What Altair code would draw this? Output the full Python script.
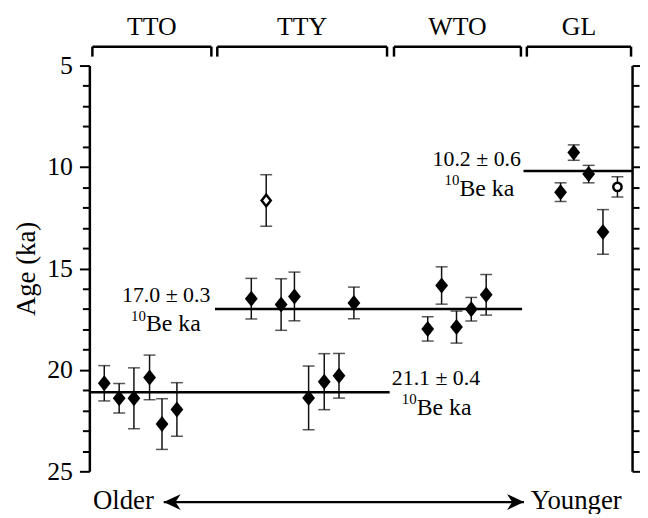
import altair as alt
import pandas as pd

# ---------------- data ----------------
# sample order along the x axis (older -> younger)
x_pos = [1.03, 2.06, 3.08, 4.16, 5.02, 6.05,
         11.19, 12.22, 13.25, 14.17, 15.15, 16.23, 17.25, 18.28,
         23.38, 24.34, 25.37, 26.39, 27.42,
         32.56, 33.47, 34.50, 35.49, 36.49]
ages = [20.66, 21.40, 21.40, 20.37, 22.67, 21.95,
        16.49, 11.65, 16.78, 16.38, 21.38, 20.58, 20.29, 16.70,
        17.98, 15.84, 17.89, 17.01, 16.30,
        11.24, 9.29, 10.35, 13.20, 10.98]
errors = [0.87, 0.73, 1.50, 1.10, 1.25, 1.32,
          1.00, 1.27, 1.27, 1.20, 1.57, 1.38, 1.10, 0.78,
          0.60, 0.92, 0.79, 0.58, 1.00,
          0.46, 0.38, 0.43, 1.10, 0.50]
kinds = (["filled"] * 6
         + ["filled", "open_diamond"] + ["filled"] * 6
         + ["filled"] * 5
         + ["filled"] * 4 + ["open_circle"])

group_names = ["TTO", "TTY", "WTO", "GL"]
group_start = [0.21, 8.84, 21.05, 30.23]
group_end = [8.43, 20.57, 29.82, 37.43]

mean_age = [21.1, 17.0, 10.2]
mean_err = [0.4, 0.3, 0.6]
mean_start = [0.0, 8.68, 30.0]
mean_end = [20.75, 29.9, 37.5]

y_ticks = list(range(5, 26))

# ---------------- layout helpers ----------------
PX_Y = 409 / 20.0          # pixels per ka
FONT = "Liberation Serif"

X = alt.Scale(domain=[0, 37.5], nice=False, zero=False)
Y = alt.Scale(domain=[5, 25], reverse=True, nice=False, zero=False)

x_axis = alt.Axis(orient="bottom", ticks=False, labels=False, title=None,
                  domainWidth=2.5, domainColor="black", grid=False)

tick_cond = {"condition": {"test": "datum.value % 5 === 0", "value": 10}, "value": 7}
y_left = alt.Axis(orient="left", values=y_ticks,
                  labelExpr="datum.value % 5 === 0 ? datum.label : ''",
                  labelOverlap=False, labelFlush=False, labelBound=False,
                  tickSize=tick_cond, tickWidth=2, domainWidth=2.5,
                  labelFont=FONT, labelFontSize=26, labelPadding=7,
                  title="Age (ka)", titleFont=FONT, titleFontSize=27,
                  titleFontWeight="normal", titlePadding=6, grid=False)
y_right = alt.Axis(orient="right", values=y_ticks, labels=False, title=None,
                   tickSize=tick_cond, tickWidth=2, domainWidth=2.5, grid=False)

pts = pd.DataFrame({"x": x_pos, "age": ages, "err": errors, "kind": kinds})
pts["lo"] = pts["age"] - pts["err"]
pts["hi"] = pts["age"] + pts["err"]

base = alt.Chart(pts)

# error bars (this layer carries the left axis and bottom axis)
ebar = base.mark_rule(color="#111", strokeWidth=1.5).encode(
    x=alt.X("x:Q", scale=X, axis=x_axis),
    y=alt.Y("lo:Q", scale=Y, axis=y_left),
    y2="hi:Q",
)
cap_lo = base.mark_tick(orient="horizontal", size=12, thickness=1.5, color="#111").encode(
    x=alt.X("x:Q", scale=X, axis=None), y=alt.Y("lo:Q", scale=Y, axis=None))
cap_hi = base.mark_tick(orient="horizontal", size=12, thickness=1.5, color="#111").encode(
    x=alt.X("x:Q", scale=X, axis=None), y=alt.Y("hi:Q", scale=Y, axis=None))

DIAMOND = "M0,-1.15L0.92,0L0,1.15L-0.92,0Z"
filled = base.transform_filter("datum.kind == 'filled'").mark_point(
    shape=DIAMOND, size=196, filled=True, color="black", opacity=1).encode(
    x=alt.X("x:Q", scale=X, axis=None), y=alt.Y("age:Q", scale=Y, axis=None))
open_d = base.transform_filter("datum.kind == 'open_diamond'").mark_point(
    shape=DIAMOND, size=100, fill="white", stroke="black", strokeWidth=2.5, opacity=1).encode(
    x=alt.X("x:Q", scale=X, axis=None), y=alt.Y("age:Q", scale=Y, axis=None))
open_c = base.transform_filter("datum.kind == 'open_circle'").mark_point(
    shape="circle", size=70, fill="white", stroke="black", strokeWidth=2.5, opacity=1).encode(
    x=alt.X("x:Q", scale=X, axis=None), y=alt.Y("age:Q", scale=Y, axis=None))

# mean lines (carries the right axis)
means = pd.DataFrame({"m": mean_age, "e": mean_err, "s": mean_start, "t": mean_end})
mean_lines = alt.Chart(means).mark_rule(color="black", strokeWidth=2.5).encode(
    x=alt.X("s:Q", scale=X, axis=None), x2="t:Q",
    y=alt.Y("m:Q", scale=Y, axis=y_right))

# group brackets at the top
BR_TOP = 5 + (45 - 64) / PX_Y
BR_LEG = 5 + (55 - 64) / PX_Y
LBL_Y = 5 + (33 - 64) / PX_Y
grp = pd.DataFrame({"name": group_names, "s": group_start, "t": group_end})
grp["top"] = BR_TOP
grp["leg"] = BR_LEG
grp["ly"] = LBL_Y
gbase = alt.Chart(grp)
br_h = gbase.mark_rule(color="black", strokeWidth=2.5).encode(
    x=alt.X("s:Q", scale=X, axis=None), x2="t:Q", y=alt.Y("top:Q", scale=Y, axis=None))
br_l = gbase.mark_rule(color="black", strokeWidth=2.5).encode(
    x=alt.X("s:Q", scale=X, axis=None), y=alt.Y("top:Q", scale=Y, axis=None), y2="leg:Q")
br_r = gbase.mark_rule(color="black", strokeWidth=2.5).encode(
    x=alt.X("t:Q", scale=X, axis=None), y=alt.Y("top:Q", scale=Y, axis=None), y2="leg:Q")
br_txt = gbase.transform_calculate(cx="(datum.s + datum.t) / 2").mark_text(
    font=FONT, fontSize=26, color="black", baseline="alphabetic", align="center").encode(
    x=alt.X("cx:Q", scale=X, axis=None), y=alt.Y("ly:Q", scale=Y, axis=None), text="name:N")

# annotations
mean_txt = [f"{m:.1f} \u00b1 {e:.1f}" for m, e in zip(mean_age, mean_err)]
main_base = [386, 302, 165]          # text baselines (px) for the three labels
main_x = [20.9, 8.36, 29.82]
main_align = ["left", "right", "right"]
split_x = [22.62, 3.91, 25.57]
rows = []
for i in range(3):
    yb = 5 + (main_base[i] - 64) / PX_Y
    rows.append(dict(text=mean_txt[i], x=main_x[i], y=yb, fs=22, al=main_align[i]))
    rows.append(dict(text="10", x=split_x[i], y=yb + 19 / PX_Y, fs=15, al="right"))
    rows.append(dict(text="Be ka", x=split_x[i], y=yb + 30 / PX_Y, fs=24, al="left"))
ARROW_Y = 5 + (504 - 64) / PX_Y
TXT_Y = 5 + (511 - 64) / PX_Y
rows.append(dict(text="Older", x=4.46, y=TXT_Y, fs=27, al="right"))
rows.append(dict(text="Younger", x=30.5, y=TXT_Y, fs=27, al="left"))
ann = pd.DataFrame(rows)

def ann_layer(al):
    return alt.Chart(ann).transform_filter(f"datum.al == '{al}'").mark_text(
        font=FONT, color="black", baseline="alphabetic", align=al).encode(
        x=alt.X("x:Q", scale=X, axis=None), y=alt.Y("y:Q", scale=Y, axis=None),
        text="text:N", size=alt.Size("fs:Q", scale=None))

arrow = pd.DataFrame({"a": [5.14], "b": [30.03], "y": [ARROW_Y]})
arrow_line = alt.Chart(arrow).mark_rule(color="black", strokeWidth=2.2).encode(
    x=alt.X("a:Q", scale=X, axis=None), x2="b:Q", y=alt.Y("y:Q", scale=Y, axis=None))
head_l = alt.Chart(arrow).mark_point(
    shape="M0,0L2,-0.94L1.4,0L2,0.94Z", size=289, filled=True, color="black", opacity=1).encode(
    x=alt.X("a:Q", scale=X, axis=None), y=alt.Y("y:Q", scale=Y, axis=None))
head_r = alt.Chart(arrow).mark_point(
    shape="M0,0L-2,-0.94L-1.4,0L-2,0.94Z", size=289, filled=True, color="black", opacity=1).encode(
    x=alt.X("b:Q", scale=X, axis=None), y=alt.Y("y:Q", scale=Y, axis=None))

chart = alt.layer(
    ebar, cap_lo, cap_hi, mean_lines, filled, open_d, open_c,
    br_h, br_l, br_r, br_txt,
    ann_layer("left"), ann_layer("right"),
    arrow_line, head_l, head_r,
).resolve_scale(y="shared", x="shared").resolve_axis(y="independent").properties(
    width=547, height=409,
    padding={"left": 82, "top": 56, "right": 8, "bottom": 41},
    autosize=alt.AutoSizeParams(type="none"),
).configure_view(stroke=None).configure_axis(
    domainColor="black", tickColor="black", labelColor="black", titleColor="black")

chart.save("out.html", embed_options={"renderer": "svg", "actions": False})
